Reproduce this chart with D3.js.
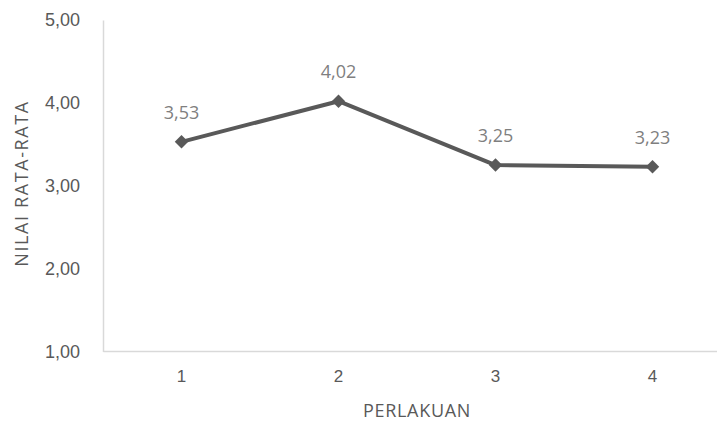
<!DOCTYPE html>
<html>
<head>
<meta charset="utf-8">
<script src="https://cdn.jsdelivr.net/npm/d3@7"></script>
<style>
  html, body { margin: 0; padding: 0; background: #fff; }
  svg { display: block; font-family: "Open Sans", "Noto Sans", sans-serif; }
</style>
</head>
<body>
<svg id="chart" width="717" height="421"></svg>
<script>
// Mean score per treatment
const categories = ["1", "2", "3", "4"];
const values = [3.53, 4.02, 3.25, 3.23];
const yTicks = [1, 2, 3, 4, 5];

const fmt = v => d3.format(".2f")(v).replace(".", ",");

const svg = d3.select("#chart");
const margin = { left: 103, top: 20, bottom: 70 };
const plotRight = 731;
const plotBottom = 421 - margin.bottom;

const x = d3.scaleBand().domain(categories).range([margin.left, plotRight]);
const y = d3.scaleLinear().domain([1, 5]).range([plotBottom + 0.5, margin.top]);

const axisColor = "#d9d9d9";
const textColor = "#595959";

// Y axis
const yAxis = svg.append("g")
  .attr("transform", `translate(${margin.left},0)`)
  .call(d3.axisLeft(y).tickValues(yTicks).tickFormat(fmt).tickSize(0).tickPadding(23));
yAxis.select(".domain").attr("stroke", axisColor).attr("stroke-width", 1.5);
yAxis.selectAll("text").attr("fill", textColor).style("font-size", "18px");

// X axis
const xAxis = svg.append("g")
  .attr("transform", `translate(0,${plotBottom})`)
  .call(d3.axisBottom(x).tickSize(0).tickPadding(19));
xAxis.select(".domain").attr("stroke", axisColor).attr("stroke-width", 1.5);
xAxis.selectAll("text").attr("fill", textColor).style("font-size", "17px");

// Axis titles
svg.append("text")
  .attr("x", (margin.left + plotRight) / 2)
  .attr("y", 417)
  .attr("text-anchor", "middle")
  .attr("fill", textColor)
  .style("font-size", "18px")
  .style("letter-spacing", "0.7px")
  .text("PERLAKUAN");

svg.append("text")
  .attr("transform", `translate(28,${(margin.top + plotBottom) / 2 - 2}) rotate(-90)`)
  .attr("text-anchor", "middle")
  .attr("fill", textColor)
  .style("font-size", "18px")
  .style("letter-spacing", "1.6px")
  .text("NILAI RATA-RATA");

// Line
const pts = categories.map((c, i) => ({ c, v: values[i] }));
const line = d3.line().x(d => x(d.c) + x.bandwidth() / 2).y(d => y(d.v));
svg.append("path")
  .datum(pts)
  .attr("d", line)
  .attr("fill", "none")
  .attr("stroke", "#595959")
  .attr("stroke-width", 4)
  .attr("stroke-linejoin", "round");

// Diamond markers
svg.selectAll(".marker")
  .data(pts)
  .join("path")
  .attr("class", "marker")
  .attr("d", d3.symbol(d3.symbolDiamond2, 115)())
  .attr("transform", d => `translate(${x(d.c) + x.bandwidth() / 2},${y(d.v)})`)
  .attr("fill", "#595959");

// Data labels
svg.selectAll(".label")
  .data(pts)
  .join("text")
  .attr("class", "label")
  .attr("x", d => x(d.c) + x.bandwidth() / 2)
  .attr("y", d => y(d.v) - 23)
  .attr("text-anchor", "middle")
  .attr("fill", "#7f7f7f")
  .style("font-size", "18px")
  .text(d => fmt(d.v));
</script>
</body>
</html>
